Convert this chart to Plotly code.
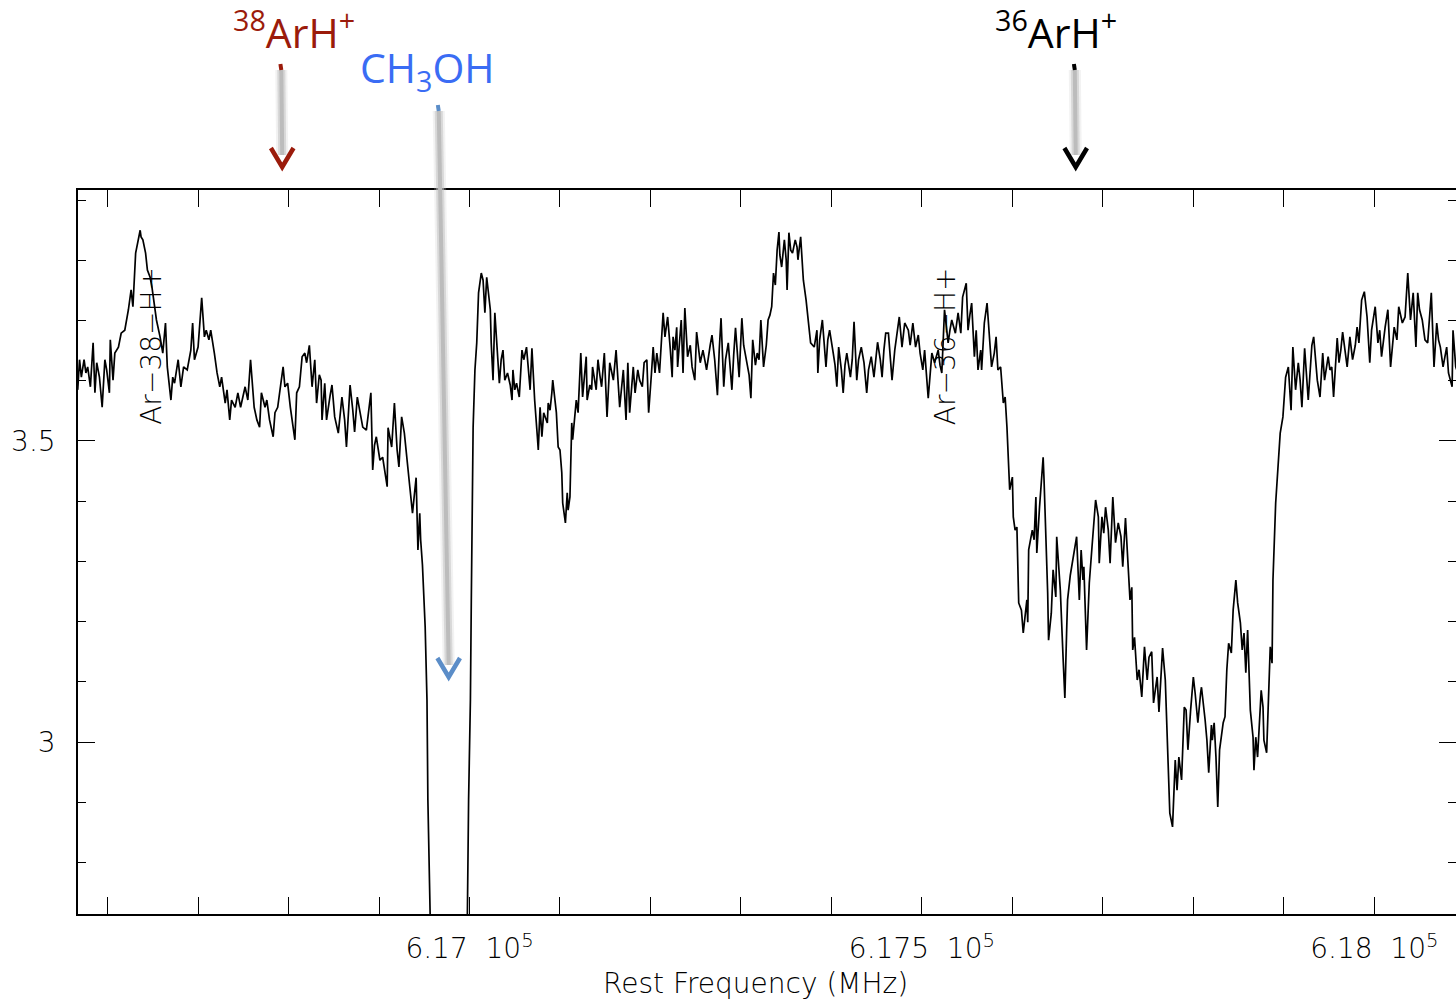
import plotly.graph_objects as go

# ---------------- data ----------------
freq_mhz = [
    616565, 616567, 616569, 616571, 616574, 616576, 616578, 616581, 616584, 616586, 616588,
    616591, 616594, 616597, 616599, 616602, 616603, 616606, 616608, 616612, 616615, 616619,
    616623, 616625, 616626, 616628, 616631, 616636, 616637, 616639, 616641, 616642, 616644,
    616647, 616649, 616652, 616654, 616658, 616661, 616664, 616666, 616670, 616672, 616674,
    616678, 616681, 616684, 616688, 616692, 616694, 616696, 616700, 616704, 616707, 616709,
    616712, 616714, 616718, 616721, 616724, 616726, 616730, 616732, 616735, 616737, 616741,
    616744, 616747, 616752, 616755, 616758, 616762, 616765, 616768, 616770, 616774, 616776,
    616779, 616783, 616785, 616788, 616792, 616794, 616796, 616799, 616802, 616807, 616809,
    616812, 616815, 616818, 616820, 616823, 616826, 616829, 616831, 616834, 616836, 616837,
    616840, 616842, 616846, 616848, 616851, 616855, 616859, 616862, 616864, 616868, 616871,
    616873, 616876, 616880, 616882, 616886, 616891, 616893, 616895, 616897, 616901, 616904,
    616909, 616910, 616914, 616917, 616920, 616922, 616925, 616928, 616931, 616934, 616937,
    616941, 616943, 616945, 616946, 616948, 616951, 616953, 616954, 616956, 616958, 616967,
    616978, 616989, 616997, 616999, 617001, 617002, 617003, 617004, 617006, 617008, 617010,
    617013, 617015, 617017, 617019, 617020, 617023, 617024, 617026, 617028, 617030, 617033,
    617035, 617037, 617039, 617042, 617045, 617047, 617048, 617050, 617052, 617055, 617058,
    617060, 617063, 617067, 617069, 617072, 617075, 617076, 617078, 617080, 617082, 617086,
    617087, 617089, 617091, 617092, 617096, 617098, 617100, 617102, 617103, 617106, 617108,
    617109, 617111, 617113, 617114, 617118, 617120, 617123, 617125, 617129, 617130, 617133,
    617135, 617136, 617140, 617142, 617144, 617146, 617149, 617152, 617155, 617159, 617162,
    617164, 617166, 617170, 617173, 617175, 617177, 617181, 617183, 617186, 617188, 617191,
    617193, 617196, 617198, 617201, 617203, 617205, 617207, 617210, 617214, 617216, 617219,
    617222, 617224, 617225, 617227, 617229, 617230, 617234, 617236, 617238, 617241, 617244,
    617246, 617249, 617251, 617255, 617258, 617260, 617262, 617266, 617268, 617271, 617274,
    617276, 617278, 617281, 617283, 617286, 617288, 617290, 617292, 617294, 617298, 617301,
    617303, 617307, 617309, 617311, 617313, 617316, 617318, 617320, 617322, 617325, 617328,
    617330, 617332, 617334, 617336, 617338, 617340, 617342, 617343, 617345, 617348, 617350,
    617351, 617353, 617355, 617357, 617360, 617362, 617363, 617366, 617369, 617372, 617374,
    617377, 617381, 617384, 617385, 617387, 617390, 617392, 617394, 617396, 617398, 617402,
    617404, 617406, 617408, 617411, 617413, 617415, 617417, 617421, 617423, 617425, 617428,
    617430, 617433, 617436, 617439, 617441, 617444, 617447, 617449, 617451, 617454, 617456,
    617458, 617460, 617463, 617465, 617467, 617470, 617472, 617475, 617478, 617481, 617485,
    617487, 617490, 617493, 617496, 617498, 617501, 617503, 617507, 617509, 617511, 617514,
    617518, 617520, 617522, 617525, 617529, 617531, 617533, 617537, 617540, 617543, 617545,
    617549, 617551, 617553, 617555, 617558, 617560, 617562, 617565, 617566, 617569, 617572,
    617574, 617577, 617580, 617582, 617584, 617587, 617590, 617592, 617594, 617595, 617597,
    617600, 617601, 617603, 617605, 617607, 617610, 617612, 617614, 617616, 617617, 617618,
    617622, 617624, 617626, 617627, 617630, 617634, 617635, 617638, 617639, 617640, 617643,
    617645, 617648, 617649, 617653, 617656, 617658, 617660, 617661, 617664, 617666, 617669,
    617671, 617674, 617676, 617678, 617679, 617682, 617685, 617688, 617689, 617692, 617695,
    617696, 617699, 617701, 617703, 617706, 617708, 617711, 617714, 617717, 617720, 617722,
    617725, 617728, 617730, 617732, 617733, 617735, 617738, 617740, 617743, 617746, 617749,
    617751, 617754, 617756, 617760, 617762, 617764, 617766, 617769, 617772, 617774, 617777,
    617780, 617782, 617784, 617787, 617790, 617792, 617794, 617797, 617800, 617802, 617805,
    617808, 617809, 617813, 617815, 617817, 617820, 617821, 617823, 617825, 617827, 617829,
    617833, 617835, 617837, 617839, 617842, 617844, 617847, 617849, 617852, 617854, 617856,
    617858, 617860, 617863, 617866, 617867, 617869, 617871, 617875, 617877, 617878, 617881,
    617882, 617885, 617887, 617888, 617891, 617893, 617896, 617899, 617902, 617905, 617908,
    617910, 617913, 617916, 617918, 617920, 617923, 617927, 617929, 617931, 617933, 617937,
    617940, 617943, 617945, 617949, 617951, 617953, 617955, 617959, 617961, 617963, 617965,
    617968, 617970, 617973, 617976, 617979, 617981, 617983, 617986, 617989, 617992, 617995,
    617997, 618001, 618004, 618006, 618008, 618012, 618015, 618018, 618022, 618025, 618027,
    618031, 618034, 618037, 618040, 618043, 618046, 618048, 618050, 618053, 618056, 618059,
    618063, 618066, 618069, 618071, 618073, 618076, 618080, 618082, 618086, 618087, 618090,
    618095,
]

intensity = [
    3.590, 3.585, 3.635, 3.606, 3.635, 3.613, 3.623, 3.590, 3.663, 3.580, 3.630,
    3.606, 3.556, 3.635, 3.618, 3.580, 3.668, 3.601, 3.646, 3.656, 3.679, 3.684,
    3.718, 3.739, 3.751, 3.723, 3.812, 3.850, 3.839, 3.834, 3.817, 3.812, 3.784,
    3.772, 3.756, 3.723, 3.701, 3.673, 3.646, 3.696, 3.623, 3.568, 3.606, 3.596,
    3.635, 3.590, 3.623, 3.618, 3.651, 3.696, 3.635, 3.656, 3.738, 3.673, 3.684,
    3.668, 3.684, 3.646, 3.613, 3.590, 3.606, 3.563, 3.585, 3.535, 3.568, 3.556,
    3.580, 3.556, 3.590, 3.568, 3.635, 3.556, 3.535, 3.523, 3.580, 3.556, 3.568,
    3.535, 3.507, 3.547, 3.556, 3.601, 3.623, 3.590, 3.596, 3.556, 3.502, 3.580,
    3.590, 3.640, 3.646, 3.630, 3.659, 3.590, 3.635, 3.563, 3.610, 3.601, 3.535,
    3.596, 3.535, 3.576, 3.593, 3.540, 3.513, 3.573, 3.535, 3.490, 3.593, 3.551,
    3.515, 3.573, 3.535, 3.523, 3.518, 3.580, 3.452, 3.493, 3.507, 3.468, 3.473,
    3.424, 3.522, 3.490, 3.563, 3.485, 3.457, 3.540, 3.513, 3.463, 3.424, 3.380,
    3.439, 3.319, 3.380, 3.336, 3.294, 3.191, 3.070, 2.904, 2.714, 2.600, 2.450,
    2.420, 2.450, 2.620, 2.904, 3.070, 3.236, 3.402, 3.523, 3.618, 3.663, 3.746,
    3.779, 3.767, 3.713, 3.772, 3.756, 3.718, 3.663, 3.601, 3.713, 3.668, 3.596,
    3.635, 3.651, 3.601, 3.613, 3.593, 3.568, 3.618, 3.585, 3.596, 3.573, 3.651,
    3.635, 3.656, 3.585, 3.654, 3.568, 3.507, 3.485, 3.556, 3.507, 3.547, 3.530,
    3.563, 3.551, 3.580, 3.601, 3.547, 3.490, 3.485, 3.447, 3.397, 3.364, 3.414,
    3.385, 3.407, 3.530, 3.502, 3.568, 3.547, 3.646, 3.573, 3.640, 3.568, 3.593,
    3.585, 3.623, 3.585, 3.635, 3.610, 3.590, 3.646, 3.540, 3.630, 3.601, 3.651,
    3.593, 3.556, 3.618, 3.535, 3.630, 3.547, 3.623, 3.580, 3.618, 3.601, 3.590,
    3.630, 3.635, 3.547, 3.610, 3.656, 3.613, 3.646, 3.613, 3.713, 3.673, 3.706,
    3.651, 3.606, 3.673, 3.651, 3.689, 3.623, 3.701, 3.613, 3.721, 3.640, 3.659,
    3.623, 3.601, 3.681, 3.630, 3.651, 3.635, 3.618, 3.659, 3.676, 3.635, 3.576,
    3.651, 3.704, 3.590, 3.635, 3.663, 3.626, 3.585, 3.643, 3.688, 3.606, 3.704,
    3.659, 3.630, 3.610, 3.571, 3.668, 3.626, 3.646, 3.635, 3.701, 3.623, 3.659,
    3.701, 3.709, 3.723, 3.779, 3.759, 3.817, 3.847, 3.809, 3.789, 3.834, 3.801,
    3.751, 3.846, 3.817, 3.812, 3.834, 3.822, 3.801, 3.839, 3.767, 3.734, 3.701,
    3.663, 3.656, 3.684, 3.613, 3.668, 3.701, 3.659, 3.623, 3.668, 3.684, 3.646,
    3.626, 3.590, 3.656, 3.618, 3.580, 3.626, 3.646, 3.606, 3.635, 3.698, 3.601,
    3.635, 3.656, 3.630, 3.580, 3.618, 3.640, 3.606, 3.635, 3.664, 3.635, 3.606,
    3.651, 3.679, 3.679, 3.643, 3.601, 3.651, 3.676, 3.706, 3.656, 3.696, 3.684,
    3.659, 3.696, 3.656, 3.676, 3.646, 3.618, 3.651, 3.571, 3.618, 3.646, 3.630,
    3.651, 3.626, 3.613, 3.718, 3.663, 3.684, 3.701, 3.679, 3.713, 3.679, 3.739,
    3.762, 3.684, 3.709, 3.729, 3.640, 3.684, 3.618, 3.651, 3.618, 3.696, 3.729,
    3.684, 3.623, 3.646, 3.673, 3.618, 3.623, 3.563, 3.573, 3.523, 3.485, 3.419,
    3.440, 3.374, 3.352, 3.357, 3.231, 3.219, 3.181, 3.214, 3.236, 3.199, 3.319,
    3.352, 3.336, 3.407, 3.314, 3.390, 3.473, 3.435, 3.319, 3.248, 3.169, 3.214,
    3.286, 3.241, 3.341, 3.252, 3.141, 3.073, 3.186, 3.236, 3.277, 3.297, 3.319,
    3.341, 3.236, 3.319, 3.269, 3.291, 3.153, 3.264, 3.324, 3.341, 3.402, 3.374,
    3.297, 3.374, 3.347, 3.390, 3.352, 3.297, 3.407, 3.331, 3.364, 3.341, 3.291,
    3.372, 3.291, 3.236, 3.257, 3.153, 3.174, 3.103, 3.120, 3.075, 3.158, 3.103,
    3.141, 3.150, 3.065, 3.108, 3.050, 3.115, 3.156, 3.103, 2.987, 2.882, 2.859,
    2.970, 2.920, 2.975, 2.937, 3.058, 3.053, 2.987, 3.053, 3.108, 3.081, 3.032,
    3.081, 3.091, 3.037, 3.003, 2.949, 3.028, 3.003, 3.032, 2.975, 2.892, 2.987,
    3.032, 3.042, 3.120, 3.164, 3.148, 3.219, 3.269, 3.231, 3.198, 3.153, 3.181,
    3.115, 3.186, 3.053, 3.008, 2.953, 3.008, 2.975, 3.086, 3.058, 3.003, 2.982,
    3.037, 3.158, 3.131, 3.269, 3.397, 3.447, 3.513, 3.540, 3.606, 3.623, 3.551,
    3.656, 3.585, 3.630, 3.601, 3.556, 3.654, 3.568, 3.618, 3.659, 3.673, 3.601,
    3.573, 3.646, 3.601, 3.640, 3.618, 3.623, 3.573, 3.671, 3.630, 3.651, 3.681,
    3.651, 3.623, 3.673, 3.635, 3.659, 3.689, 3.663, 3.734, 3.748, 3.706, 3.630,
    3.684, 3.723, 3.663, 3.684, 3.640, 3.689, 3.718, 3.623, 3.689, 3.668, 3.723,
    3.696, 3.706, 3.779, 3.701, 3.746, 3.656, 3.746, 3.718, 3.701, 3.668, 3.663,
    3.746, 3.623, 3.696, 3.668, 3.656, 3.623, 3.656, 3.613, 3.590, 3.684, 3.623,
    3.601,
]

x_range = [616567.3, 618090.3]
y_range = [2.7143, 3.9169]

x_tick_vals = [617000, 617500, 618000]
x_tick_text = ["6.17  10<sup>5</sup>", "6.175  10<sup>5</sup>", "6.18  10<sup>5</sup>"]
y_tick_vals = [3.0, 3.5]
y_tick_text = ["3", "3.5"]
x_title = "Rest Frequency (MHz)"

# in-plot line identifications
line_labels = ["Ar\u221238\u2212H+", "Ar\u221236\u2212H+"]
line_label_freqs = [616649, 617527]
line_label_level = 3.658

# species call-outs above the plot
species_labels = ["<sup>38</sup>ArH<sup>+</sup>", "CH<sub>3</sub>OH", "<sup>36</sup>ArH<sup>+</sup>"]
species_colors = ["#9b1b0b", "#3a6cf4", "#000000"]
chevron_colors = ["#9b1b0b", "#5b8dc8", "#000000"]
species_label_freqs = [616806, 616954, 617648]
arrow_top_freqs = [616792, 616966, 617669]
arrow_tip_freqs = [616793, 616977, 617670]

# ---------------- figure ----------------
W, H = 1456, 1002
ML, MR, MT, MB = 78, 0, 190, 88
plot_h = H - MT - MB


def py(pix):
    """convert a screen row to paper y"""
    return (H - MB - pix) / plot_h


axis_font = dict(family="DejaVu Sans, Liberation Sans, sans-serif", size=28, color="#000000", weight=200)

fig = go.Figure()
fig.add_trace(go.Scatter(
    x=freq_mhz, y=intensity, mode="lines",
    line=dict(color="black", width=1.7),
    showlegend=False, hoverinfo="skip",
))
fig.add_trace(go.Scatter(x=[], y=[], yaxis="y2", showlegend=False, hoverinfo="skip"))

common_minor = dict(ticks="inside", ticklen=8, tickcolor="black", tickwidth=1)

fig.update_layout(
    width=W, height=H,
    margin=dict(l=ML, r=MR, t=MT, b=MB, pad=0),
    paper_bgcolor="white", plot_bgcolor="white",
    showlegend=False,
    xaxis=dict(
        range=x_range, showgrid=False, zeroline=False,
        showline=True, linecolor="black", linewidth=1.5, mirror="allticks",
        ticks="inside", ticklen=17, tickwidth=1, tickcolor="black",
        tickvals=x_tick_vals, ticktext=x_tick_text, tickfont=axis_font,
        ticklabelstandoff=9,
        minor=dict(dtick=100, tick0=617000, **common_minor),
    ),
    yaxis=dict(
        range=y_range, showgrid=False, zeroline=False,
        showline=True, linecolor="black", linewidth=1.5, mirror=False,
        ticks="inside", ticklen=17, tickwidth=1, tickcolor="black",
        tickvals=y_tick_vals, ticktext=y_tick_text, tickfont=axis_font,
        ticklabelstandoff=15,
        minor=dict(dtick=0.1, tick0=3.0, **common_minor),
    ),
    yaxis2=dict(
        range=y_range, overlaying="y", side="right", anchor="x",
        showgrid=False, zeroline=False, showline=False, showticklabels=False,
        ticks="inside", ticklen=17, tickwidth=1, tickcolor="black",
        tickvals=y_tick_vals,
        minor=dict(dtick=0.1, tick0=3.0, **common_minor),
    ),
)

# x-axis title
fig.add_annotation(
    text=x_title, xref="x", yref="paper", x=617316, y=py(983),
    showarrow=False, xanchor="center", yanchor="middle", font=axis_font,
)

# rotated line identifications
for lab, f in zip(line_labels, line_label_freqs):
    fig.add_annotation(
        text=lab, x=f, y=line_label_level, xref="x", yref="y",
        textangle=-90, showarrow=False, xanchor="center", yanchor="middle",
        font=axis_font,
    )

# species labels
label_rows = [30, 70, 30]
for lab, col, f, row in zip(species_labels, species_colors, species_label_freqs, label_rows):
    fig.add_annotation(
        text=lab, x=f, y=py(row), xref="x", yref="paper",
        showarrow=False, xanchor="center", yanchor="middle",
        font=dict(family="Open Sans, Lato, sans-serif", size=41, color=col),
    )

# arrows: grey shaft, small coloured tab, coloured chevron
arrow_top_rows = [70, 111, 70]
arrow_tip_rows = [167, 677, 167]
for ftop, ftip, rtop, rtip, col in zip(arrow_top_freqs, arrow_tip_freqs,
                                       arrow_top_rows, arrow_tip_rows, chevron_colors):
    for wdt, c in [(12, "rgba(205,205,205,0.25)"), (8, "rgba(195,195,195,0.55)"), (4, "#bcbcbc")]:
        fig.add_shape(type="line", xref="x", yref="paper",
                      x0=ftop, y0=py(rtop), x1=ftip, y1=py(rtip - 12),
                      line=dict(color=c, width=wdt), layer="above")
    # tab at the top
    fig.add_shape(type="line", xref="x", yref="paper",
                  x0=ftop - 1, y0=py(rtop - 6), x1=ftop, y1=py(rtop),
                  line=dict(color=col, width=4), layer="above")
    # chevron
    half = 12.5
    fig.add_shape(type="path", xref="x", yref="paper",
                  path=f"M {ftip - half},{py(rtip - 19)} L {ftip},{py(rtip)} L {ftip + half},{py(rtip - 19)}",
                  line=dict(color=col, width=4.5), layer="above")

fig.write_html("out.html", config={"displayModeBar": False})
